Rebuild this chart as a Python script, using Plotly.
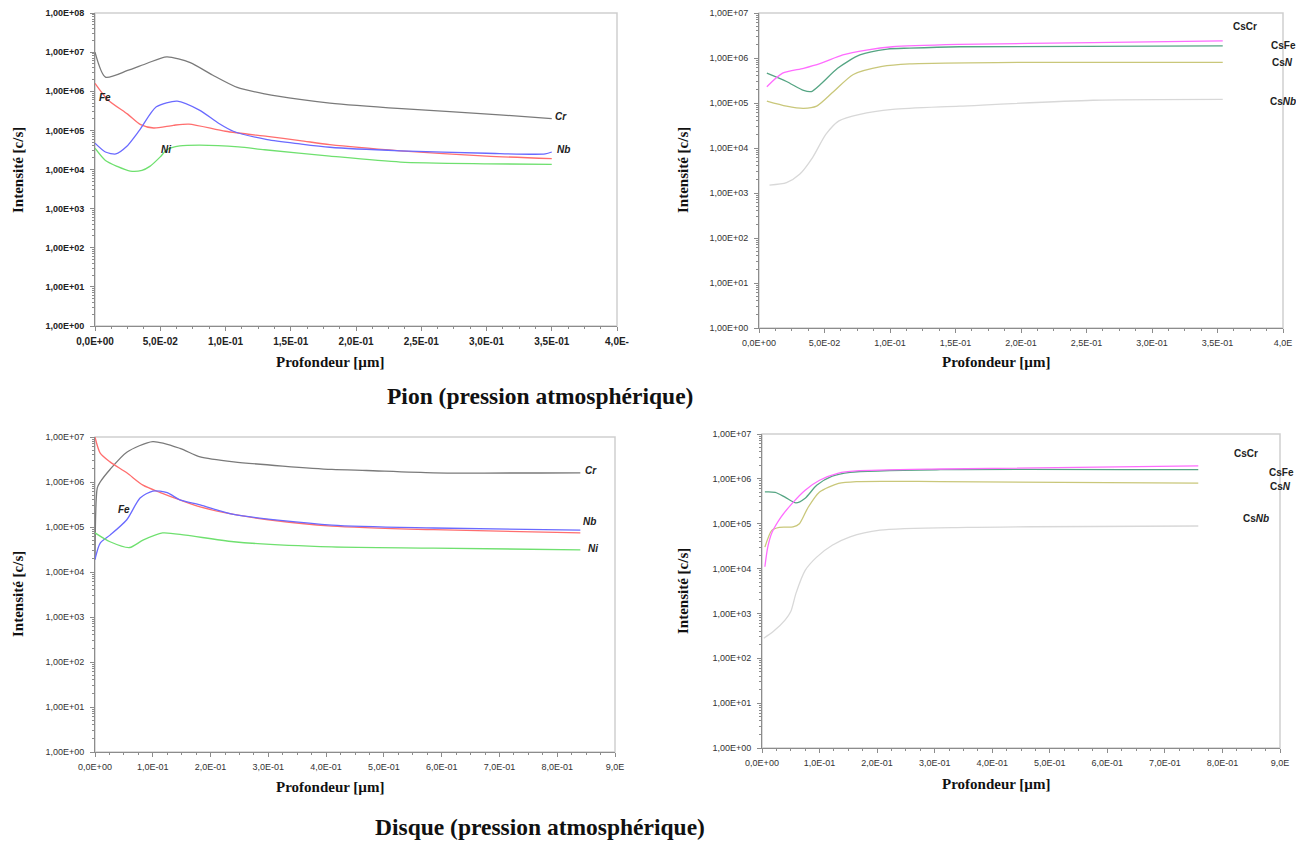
import plotly.graph_objects as go

W, H = 1304, 844          # reference picture size (coordinates below are in its pixels)
OFF = 8                   # page body margin
FW, FH = W - OFF, H - OFF  # figure size that fits the window

# ---------------- Data: Pion (top-left) ----------------
pion_cr_x = [0, 0.008, 0.025, 0.04, 0.055, 0.073, 0.09, 0.109, 0.13, 0.157, 0.18, 0.235, 0.31, 0.35]
pion_cr_y = [1.0e7, 2.3e6, 3.4e6, 5.2e6, 7.6e6, 5.4e6, 2.6e6, 1.25e6, 8.6e5, 6.2e5, 5.0e5, 3.6e5, 2.5e5, 2.0e5]
pion_fe_x = [0, 0.01, 0.025, 0.035, 0.045, 0.06, 0.072, 0.1, 0.132, 0.157, 0.18, 0.234, 0.3, 0.35]
pion_fe_y = [1.6e6, 6.0e5, 2.6e5, 1.4e5, 1.15e5, 1.35e5, 1.45e5, 9.5e4, 7.0e4, 5.5e4, 4.3e4, 3.0e4, 2.2e4, 1.9e4]
pion_nb_x = [0, 0.008, 0.016, 0.024, 0.034, 0.047, 0.063, 0.08, 0.095, 0.106, 0.132, 0.157, 0.18, 0.234, 0.3, 0.345, 0.35]
pion_nb_y = [4.7e4, 2.8e4, 2.5e4, 3.8e4, 1.0e5, 4.0e5, 5.6e5, 3.3e5, 1.5e5, 9.5e4, 5.8e4, 4.5e4, 3.7e4, 3.0e4, 2.6e4, 2.5e4, 2.8e4]
pion_ni_x = [0, 0.008, 0.017, 0.027, 0.036, 0.042, 0.05, 0.055, 0.065, 0.08, 0.11, 0.13, 0.18, 0.234, 0.3, 0.35]
pion_ni_y = [3.5e4, 1.7e4, 1.2e4, 9.1e3, 9.5e3, 1.2e4, 2.1e4, 3.2e4, 4.0e4, 4.2e4, 3.8e4, 3.2e4, 2.2e4, 1.55e4, 1.4e4, 1.35e4]

# ---------------- Data: Pion Cs (top-right) ----------------
pion_cscr_x = [0.006, 0.018, 0.034, 0.047, 0.064, 0.082, 0.102, 0.153, 0.255, 0.354]
pion_cscr_y = [2.3e5, 4.6e5, 5.9e5, 7.6e5, 1.17e6, 1.5e6, 1.78e6, 2.0e6, 2.2e6, 2.4e6]
pion_csfe_x = [0.006, 0.021, 0.034, 0.04, 0.047, 0.06, 0.077, 0.098, 0.115, 0.153, 0.354]
pion_csfe_y = [4.6e5, 3.0e5, 1.9e5, 1.8e5, 2.6e5, 5.9e5, 1.17e6, 1.58e6, 1.66e6, 1.78e6, 1.86e6]
pion_csn_x = [0.006, 0.021, 0.034, 0.044, 0.057, 0.072, 0.094, 0.115, 0.2, 0.354]
pion_csn_y = [1.1e5, 8.5e4, 7.6e4, 8.5e4, 1.8e5, 4.3e5, 6.5e5, 7.4e5, 8.0e5, 8.0e5]
pion_csnb_x = [0.008, 0.021, 0.031, 0.041, 0.051, 0.061, 0.077, 0.102, 0.153, 0.255, 0.354]
pion_csnb_y = [1.5e3, 1.7e3, 2.6e3, 6.2e3, 2.0e4, 4.0e4, 5.6e4, 7.2e4, 8.5e4, 1.15e5, 1.2e5]

# ---------------- Data: Disque (bottom-left) ----------------
disq_cr_x = [0, 0.004, 0.009, 0.026, 0.055, 0.1, 0.147, 0.182, 0.24, 0.41, 0.47, 0.586, 0.84]
disq_cr_y = [1.9e4, 7.4e5, 1.0e6, 1.9e6, 4.6e6, 7.9e6, 5.6e6, 3.6e6, 2.8e6, 1.9e6, 1.8e6, 1.6e6, 1.6e6]
disq_fe_x = [0, 0.009, 0.026, 0.055, 0.083, 0.113, 0.147, 0.182, 0.24, 0.3, 0.41, 0.586, 0.84]
disq_fe_y = [1.0e7, 4.4e6, 2.8e6, 1.6e6, 8.5e5, 5.8e5, 4.0e5, 2.8e5, 1.9e5, 1.45e5, 1.05e5, 8.7e4, 7.4e4]
disq_nb_x = [0, 0.009, 0.026, 0.055, 0.078, 0.1, 0.125, 0.147, 0.182, 0.24, 0.41, 0.586, 0.84]
disq_nb_y = [1.9e4, 4.4e4, 6.6e4, 1.45e5, 4.4e5, 6.3e5, 5.8e5, 4.0e5, 3.1e5, 1.9e5, 1.1e5, 9.5e4, 8.5e4]
disq_ni_x = [0, 0.026, 0.06, 0.083, 0.117, 0.157, 0.24, 0.41, 0.586, 0.84]
disq_ni_y = [7.4e4, 4.7e4, 3.5e4, 5.1e4, 7.4e4, 6.6e4, 4.7e4, 3.6e4, 3.4e4, 3.1e4]

# ---------------- Data: Disque Cs (bottom-right) ----------------
disq_cscr_x = [0.005, 0.01, 0.017, 0.033, 0.054, 0.075, 0.1, 0.133, 0.164, 0.31, 0.758]
disq_cscr_y = [1.1e4, 3.0e4, 6.2e4, 1.4e5, 3.0e5, 5.6e5, 9.3e5, 1.35e6, 1.5e6, 1.66e6, 1.95e6]
disq_csfe_x = [0.005, 0.023, 0.04, 0.059, 0.075, 0.095, 0.122, 0.153, 0.31, 0.758]
disq_csfe_y = [5.1e5, 5.0e5, 3.9e5, 2.9e5, 3.7e5, 7.2e5, 1.15e6, 1.4e6, 1.6e6, 1.6e6]
disq_csn_x = [0.005, 0.017, 0.03, 0.054, 0.065, 0.08, 0.1, 0.133, 0.164, 0.31, 0.758]
disq_csn_y = [3.0e4, 7.1e4, 8.3e4, 8.5e4, 1.0e5, 2.3e5, 5.1e5, 7.9e5, 8.7e5, 8.7e5, 8.0e5]
disq_csnb_x = [0.003, 0.02, 0.04, 0.05, 0.059, 0.075, 0.095, 0.122, 0.153, 0.205, 0.356, 0.758]
disq_csnb_y = [2.8e2, 4.0e2, 7.1e2, 1.1e3, 2.8e3, 9.1e3, 1.8e4, 3.3e4, 5.1e4, 7.2e4, 8.3e4, 8.9e4]

# ---------------- Tick labels ----------------
y_ticks_8 = [1, 10, 100, 1e3, 1e4, 1e5, 1e6, 1e7, 1e8]
y_text_8 = ["1,00E+00", "1,00E+01", "1,00E+02", "1,00E+03", "1,00E+04",
            "1,00E+05", "1,00E+06", "1,00E+07", "1,00E+08"]
x_ticks_pion = [0, 0.05, 0.1, 0.15, 0.2, 0.25, 0.3, 0.35, 0.4]
x_text_pion_l = ["0,0E+00", "5,0E-02", "1,0E-01", "1,5E-01", "2,0E-01", "2,5E-01", "3,0E-01", "3,5E-01", "4,0E-"]
x_text_pion_r = ["0,0E+00", "5,0E-02", "1,0E-01", "1,5E-01", "2,0E-01", "2,5E-01", "3,0E-01", "3,5E-01", "4,0E"]
x_ticks_disq = [0, 0.1, 0.2, 0.3, 0.4, 0.5, 0.6, 0.7, 0.8, 0.9]
x_text_disq = ["0,0E+00", "1,0E-01", "2,0E-01", "3,0E-01", "4,0E-01", "5,0E-01", "6,0E-01", "7,0E-01", "8,0E-01", "9,0E"]

C_CR, C_FE, C_NB, C_NI = "#7a7a7a", "#ff6e6e", "#6a6aff", "#6fe06f"
C_CSCR, C_CSFE, C_CSN, C_CSNB = "#ff6cff", "#55a583", "#c9c77a", "#d8d8d8"


def dx(a, b):
    return [(a - OFF) / FW, (b - OFF) / FW]


def dy(top, bottom):
    return [1 - (bottom - OFF) / FH, 1 - (top - OFF) / FH]


fig = go.Figure()

panels = [
    ("", [(pion_cr_x, pion_cr_y, C_CR), (pion_fe_x, pion_fe_y, C_FE),
          (pion_nb_x, pion_nb_y, C_NB), (pion_ni_x, pion_ni_y, C_NI)]),
    ("2", [(pion_csnb_x, pion_csnb_y, C_CSNB), (pion_csn_x, pion_csn_y, C_CSN),
           (pion_csfe_x, pion_csfe_y, C_CSFE), (pion_cscr_x, pion_cscr_y, C_CSCR)]),
    ("3", [(disq_cr_x, disq_cr_y, C_CR), (disq_fe_x, disq_fe_y, C_FE),
           (disq_nb_x, disq_nb_y, C_NB), (disq_ni_x, disq_ni_y, C_NI)]),
    ("4", [(disq_csnb_x, disq_csnb_y, C_CSNB), (disq_csn_x, disq_csn_y, C_CSN),
           (disq_csfe_x, disq_csfe_y, C_CSFE), (disq_cscr_x, disq_cscr_y, C_CSCR)]),
]

for suf, series in panels:
    for xs, ys, col in series:
        fig.add_trace(go.Scatter(x=xs, y=ys, mode="lines",
                                 line=dict(color=col, width=1.3, shape="spline", smoothing=0.7),
                                 xaxis="x" + suf, yaxis="y" + suf, showlegend=False,
                                 hoverinfo="skip"))

font_bold_x = dict(family="Arial, Liberation Sans", size=10, color="#222222", weight="bold")
font_bold_y = dict(family="Arial, Liberation Sans", size=9, color="#222222", weight="bold")
font_norm = dict(family="Arial, Liberation Sans", size=9, color="#333333")
axis_common = dict(showline=True, linecolor="#8c8c8c", linewidth=1, ticks="outside",
                   ticklen=4, tickcolor="#8c8c8c", showgrid=False, zeroline=False,
                   fixedrange=True, automargin=False)


def xaxis(domain, rng, tv, tt, anchor, minor_dt, tf):
    d = dict(axis_common)
    d.update(domain=domain, range=rng, tickvals=tv, ticktext=tt, anchor=anchor,
             ticklabelstandoff=2, tickfont=tf,
             minor=dict(ticks="outside", ticklen=2, tickcolor="#8c8c8c", dtick=minor_dt))
    return d


def yaxis(domain, top_exp, anchor, tf):
    d = dict(axis_common)
    d.update(domain=domain, type="log", range=[0, top_exp],
             tickvals=y_ticks_8[:top_exp + 1], ticktext=y_text_8[:top_exp + 1],
             anchor=anchor, ticklabelstandoff=4, tickfont=tf,
             minor=dict(ticks="outside", ticklen=2, tickcolor="#8c8c8c",
                        tickvals=[m * 10 ** e for e in range(top_exp) for m in range(2, 10)]))
    return d


fig.update_layout(
    width=FW, height=FH, margin=dict(l=0, r=0, t=0, b=0, autoexpand=False),
    paper_bgcolor="white", plot_bgcolor="white",
    xaxis=xaxis(dx(95, 617), [0, 0.4], x_ticks_pion, x_text_pion_l, "y", 0.0125, font_bold_x),
    yaxis=yaxis(dy(13, 326), 8, "x", font_bold_y),
    xaxis2=xaxis(dx(759, 1283), [0, 0.4], x_ticks_pion, x_text_pion_r, "y2", 0.0125, font_norm),
    yaxis2=yaxis(dy(13, 328), 7, "x2", font_norm),
    xaxis3=xaxis(dx(95, 615), [0, 0.9], x_ticks_disq, x_text_disq, "y3", 0.025, font_norm),
    yaxis3=yaxis(dy(437, 752), 7, "x3", font_norm),
    xaxis4=xaxis(dx(762, 1280), [0, 0.9], x_ticks_disq, x_text_disq, "y4", 0.025, font_norm),
    yaxis4=yaxis(dy(434, 748), 7, "x4", font_norm),
)

shapes = []
for suf in ["", "2", "3", "4"]:
    shapes.append(dict(type="rect", xref="x" + suf + " domain", yref="y" + suf + " domain",
                       x0=0, x1=1, y0=0, y1=1, line=dict(color="#cfcfcf", width=1.5),
                       layer="below"))
fig.update_layout(shapes=shapes)

ann = []
serif_b = dict(family="Liberation Serif, Times New Roman", color="#111111")
lab = dict(family="Arial, Liberation Sans", size=10, color="#222222")


def paper(xp, yp, text, font, angle=0):
    ann.append(dict(x=(xp - OFF) / FW, y=1 - (yp - OFF) / FH, xref="paper", yref="paper",
                    text=text, showarrow=False, font=font, textangle=angle,
                    xanchor="center", yanchor="middle"))


# Panel titles
paper(540, 396, "<b>Pion (pression atmosphérique)</b>", dict(serif_b, size=23.5))
paper(540, 827, "<b>Disque (pression atmosphérique)</b>", dict(serif_b, size=23.5))
# Axis titles
paper(330, 362, "<b>Profondeur [µm]</b>", dict(serif_b, size=15))
paper(996, 362, "<b>Profondeur [µm]</b>", dict(serif_b, size=15))
paper(330, 787, "<b>Profondeur [µm]</b>", dict(serif_b, size=15))
paper(996, 784, "<b>Profondeur [µm]</b>", dict(serif_b, size=15))
paper(18, 170, "<b>Intensité [c/s]</b>", dict(serif_b, size=15), -90)
paper(683, 170, "<b>Intensité [c/s]</b>", dict(serif_b, size=15), -90)
paper(18, 594, "<b>Intensité [c/s]</b>", dict(serif_b, size=15), -90)
paper(683, 591, "<b>Intensité [c/s]</b>", dict(serif_b, size=15), -90)

# Curve labels
paper(561, 117, "<b><i>Cr</i></b>", lab)
paper(563, 149, "<b><i>Nb</i></b>", lab)
paper(105, 97, "<b><i>Fe</i></b>", lab)
paper(166, 149, "<b><i>Ni</i></b>", lab)

paper(1245, 27, "<b>CsCr</b>", lab)
paper(1283, 46, "<b>CsFe</b>", lab)
paper(1282, 62, "<b>Cs<i>N</i></b>", lab)
paper(1283, 101, "<b>Cs<i>Nb</i></b>", lab)

paper(591, 470, "<b><i>Cr</i></b>", lab)
paper(589, 521, "<b><i>Nb</i></b>", lab)
paper(593, 548, "<b><i>Ni</i></b>", lab)
paper(124, 509, "<b><i>Fe</i></b>", lab)

paper(1246, 453, "<b>CsCr</b>", lab)
paper(1281, 472, "<b>CsFe</b>", lab)
paper(1280, 486, "<b>Cs<i>N</i></b>", lab)
paper(1256, 518, "<b>Cs<i>Nb</i></b>", lab)

fig.update_layout(annotations=ann)

fig.write_html("out.html")
